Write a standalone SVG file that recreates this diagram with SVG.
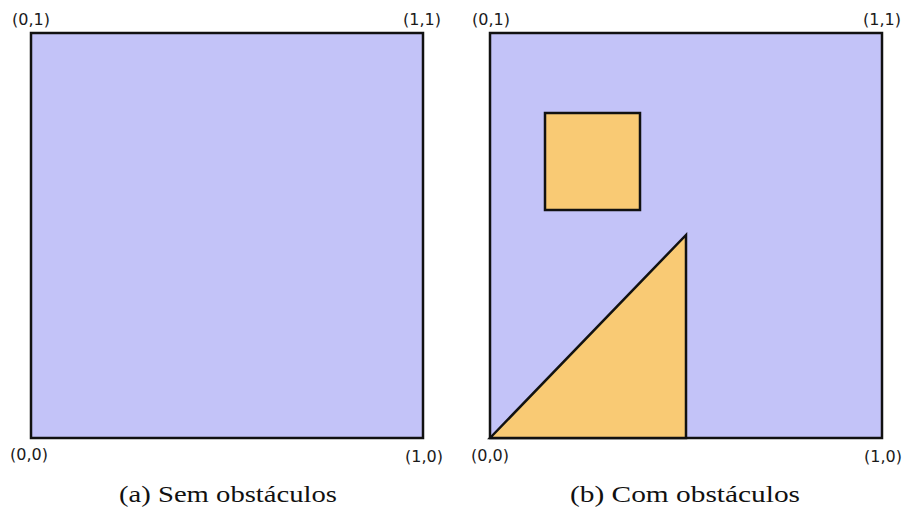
<svg xmlns="http://www.w3.org/2000/svg" width="903" height="511" viewBox="0 0 903 511">
<style>
.dom{fill:#c3c3f8;stroke:#111;stroke-width:2.5}
.obs{fill:#f9ca74;stroke:#111;stroke-width:2.5;stroke-linejoin:miter}
.lbl{font-family:"DejaVu Sans",sans-serif;font-size:16px;fill:#1a1a1a}
.cap{font-family:"Liberation Serif","DejaVu Serif",serif;font-size:24px;fill:#111}
</style>
<rect width="903" height="511" fill="#fff"/>
<g id="panel-a">
<rect class="dom" x="31" y="33" width="392" height="405"/>
<text class="lbl" x="12" y="25">(0,1)</text>
<text class="lbl" x="403" y="25">(1,1)</text>
<text class="lbl" x="10" y="460">(0,0)</text>
<text class="lbl" x="405" y="462">(1,0)</text>
<text class="cap" x="119" y="502" textLength="218" lengthAdjust="spacingAndGlyphs">(a) Sem obstáculos</text>
</g>
<g id="panel-b">
<rect class="dom" x="490" y="33" width="392" height="405"/>
<rect id="square-obstacle" class="obs" x="545" y="113" width="95" height="97"/>
<polygon id="triangle-obstacle" class="obs" points="490,438 686,235 686,438"/>
<text class="lbl" x="472" y="25">(0,1)</text>
<text class="lbl" x="863" y="25">(1,1)</text>
<text class="lbl" x="471" y="461">(0,0)</text>
<text class="lbl" x="864" y="462">(1,0)</text>
<text class="cap" x="570" y="502" textLength="230" lengthAdjust="spacingAndGlyphs">(b) Com obstáculos</text>
</g>
</svg>
